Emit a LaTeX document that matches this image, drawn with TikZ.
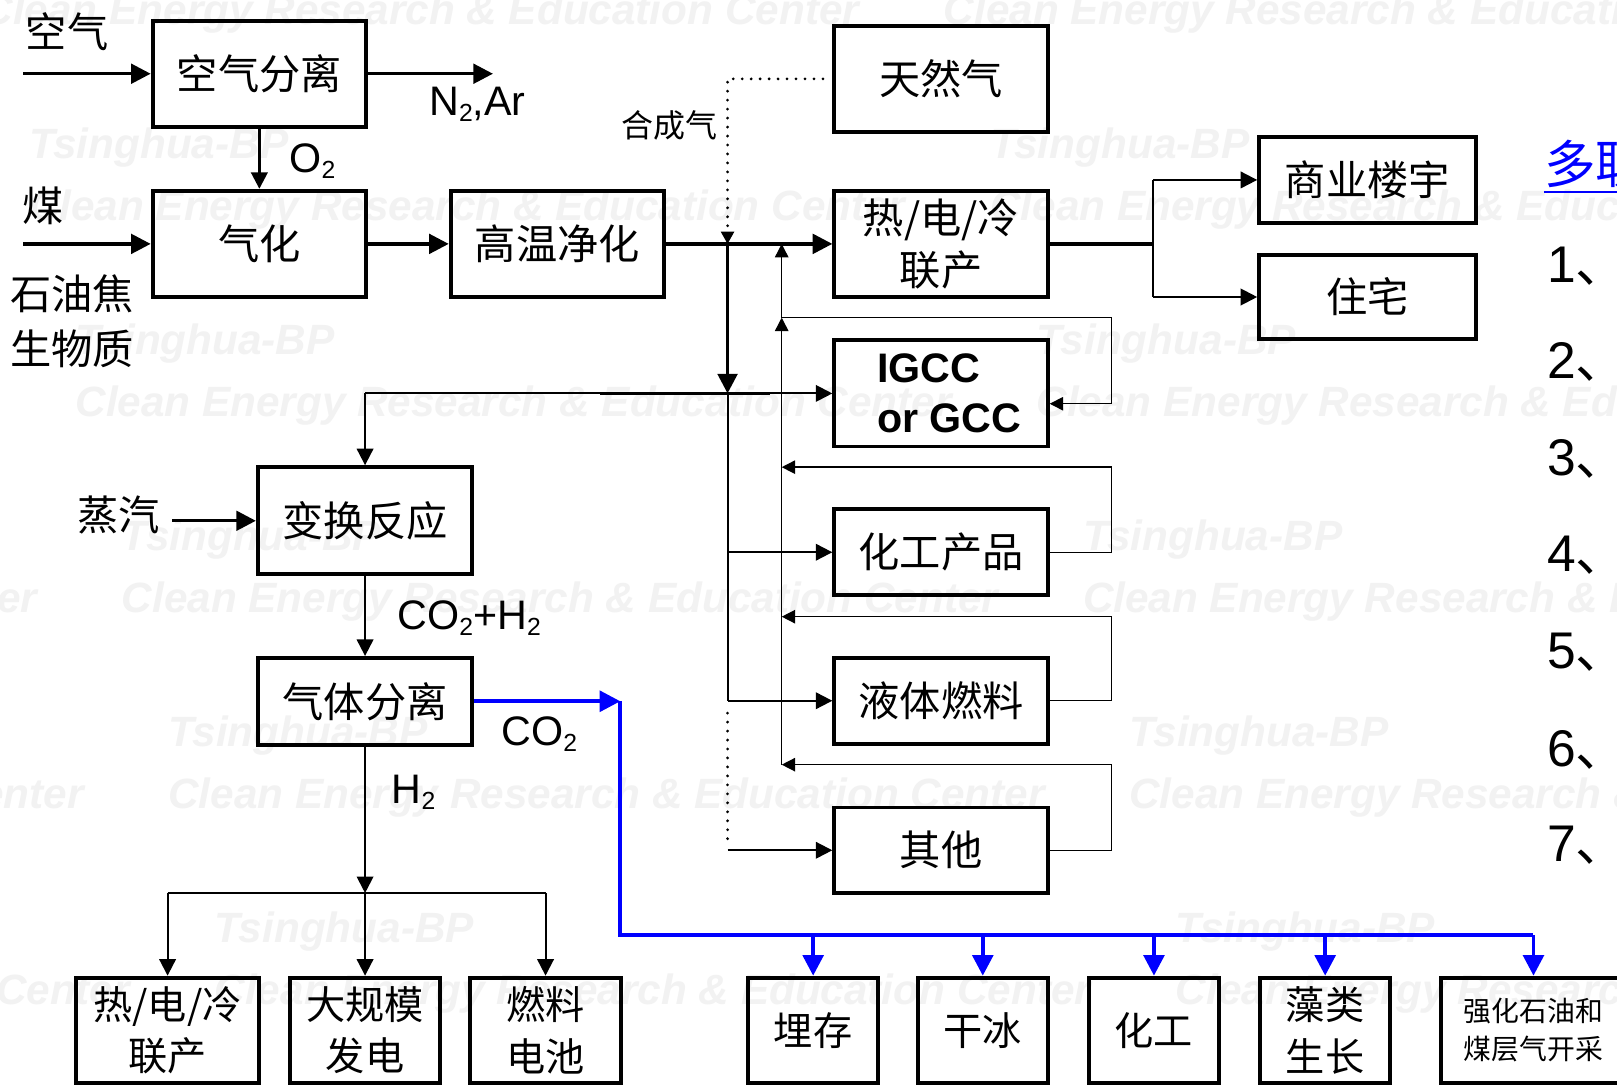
\documentclass[tikz,border=0pt]{standalone}
\usepackage{fontspec}
\setmainfont{Liberation Sans}
\newfontfamily\cjk{Noto Sans CJK SC}
\usetikzlibrary{arrows.meta}
\newcommand\subscr[1]{\raisebox{-6pt}{\fontsize{24}{24}\selectfont #1}}
\tikzset{
  boxA/.style={draw, line width=3.8pt, inner sep=0pt, align=center, font=\cjk\fontsize{40}{51}\selectfont},
  boxB/.style={draw, line width=3.8pt, inner sep=0pt, align=center, minimum height=102, font=\cjk\fontsize{38}{50}\selectfont},
  lab/.style={inner sep=0pt, font=\cjk\fontsize{40}{50}\selectfont},
  latlab/.style={inner sep=0pt, font=\fontsize{40}{48}\selectfont},
  lnThick/.style={line width=3.2pt},
  arThick/.style={line width=3.2pt, -{Triangle[length=19pt,width=19pt]}},
  arMed/.style={line width=2pt, -{Triangle[length=16pt,width=16pt]}},
  lnMed/.style={line width=2pt},
  arThin/.style={line width=1.4pt, -{Triangle[length=13pt,width=13pt]}},
  lnThin/.style={line width=1.4pt},
  arBlue/.style={draw=blue, line width=3.8pt, -{Triangle[length=20pt,width=20pt]}},
  lnBlue/.style={draw=blue, line width=3.8pt},
  dotln/.style={line width=3pt, line cap=round, dash pattern=on 0pt off 8.7pt},
  wm/.style={inner sep=0pt, anchor=west, text=black!5, font=\fontsize{41}{41}\selectfont\bfseries\itshape},
  numlab/.style={anchor=base west, inner sep=0pt, font=\fontsize{50}{50}\selectfont},
}
\begin{document}
\begin{tikzpicture}[x=1pt,y=-1pt]
\useasboundingbox (0,0) rectangle (1568,1052);
\clip (0,0) rectangle (1568,1052);
\fill[white] (0,0) rectangle (1568,1052);
% watermark
\foreach \i in {-1,...,4} {
  \foreach \j in {-1,0,1} {
    \pgfmathsetmacro\wx{28+45*\i+932*\j}
    \pgfmathsetmacro\wy{143+190*\i}
    \node[wm] (wmT\i\j) at (\wx,\wy) {Tsinghua-BP};
    \node[wm] (wmC\i\j) at (\wx,\wy+60) {Clean Energy Research \& Education Center};
  }
}
% boxes
\node[boxA, minimum width=207, minimum height=103] (asep) at (251.5,71.5) {空气分离};
\node[boxA, minimum width=207, minimum height=103] (gasif) at (251.5,236.5) {气化};
\node[boxA, minimum width=207, minimum height=103] (clean) at (540.5,236.5) {高温净化};
\node[boxA, minimum width=207, minimum height=103] (ng) at (912.5,76.5) {天然气};
\node[boxA, minimum width=207, minimum height=103] (chp) at (912.5,236.5) {热/电/冷\\联产};
\node[boxA, minimum width=207, minimum height=103, align=left, font=\fontsize{40}{48}\selectfont\bfseries] (igcc) at (912.5,381.5) {\hspace*{16pt}IGCC\\\hspace*{16pt}or GCC};
\node[boxA, minimum width=207, minimum height=83] (chem) at (912.5,535.5) {化工产品};
\node[boxA, minimum width=207, minimum height=83] (liq) at (912.5,679.5) {液体燃料};
\node[boxA, minimum width=207, minimum height=83] (other) at (912.5,824.5) {其他};
\node[boxA, minimum width=210, minimum height=83] (comm) at (1326,174.5) {商业楼宇};
\node[boxA, minimum width=210, minimum height=82] (home) at (1326,288) {住宅};
\node[boxA, minimum width=208, minimum height=104] (shift) at (354,505) {变换反应};
\node[boxA, minimum width=208, minimum height=84] (gsep) at (354,680) {气体分离};
% bottom boxes
\node[boxB, minimum width=177] (bchp) at (162.5,999) {热/电/冷\\联产};
\node[boxB, minimum width=146] (bpow) at (354,999) {大规模\\发电};
\node[boxB, minimum width=146] (bfc) at (529,999) {燃料\\电池};
\node[boxB, minimum width=126] (store) at (788.5,999) {埋存};
\node[boxB, minimum width=126] (ice) at (953,999) {干冰};
\node[boxB, minimum width=126] (chemb) at (1119,999) {化工};
\node[boxB, minimum width=126] (algae) at (1285,999) {藻类\\生长};
\node[boxB, minimum width=179, font=\cjk\fontsize{27}{37}\selectfont] (eor) at (1487,999) {强化石油和\\煤层气开采};
% labels
\node[lab] (lair) at (65,31) {空气};
\node[lab] (lcoal) at (41.5,200) {煤};
\node[lab] (lcoke) at (70,285) {石油焦};
\node[lab] (lbio) at (70,338) {生物质};
\node[lab] (lsteam) at (115,499) {蒸汽};
\node[lab, font=\cjk\fontsize{31}{31}\selectfont] (lsyn) at (649,122) {合成气};
\node[latlab] (ln2) at (463,101) {N\subscr{2},Ar};
\node[latlab] (lo2) at (303,156) {O\subscr{2}};
\node[latlab] (lco2h2) at (455,599) {CO\subscr{2}+H\subscr{2}};
\node[latlab] (lco2) at (523,712) {CO\subscr{2}};
\node[latlab] (lh2) at (401,768) {H\subscr{2}};
% right column
\node[anchor=base west, inner sep=0pt, text=blue, font=\cjk\fontsize{50}{50}\selectfont] (title) at (1497,178) {多联产};
\draw[blue, line width=2pt] ([yshift=-8pt]title.base west) -- ([yshift=-8pt]title.base east);
\node[numlab] (n1) at (1500,274) {1{\cjk 、}};
\node[numlab] (n2) at (1500,367.5) {2{\cjk 、}};
\node[numlab] (n3) at (1500,461.5) {3{\cjk 、}};
\node[numlab] (n4) at (1500,554) {4{\cjk 、}};
\node[numlab] (n5) at (1500,648) {5{\cjk 、}};
\node[numlab] (n6) at (1500,743) {6{\cjk 、}};
\node[numlab] (n7) at (1500,835) {7{\cjk 、}};
% coordinates
\coordinate (airin) at (22.5,71.5);
\coordinate (n2end) at (478,71.5);
\coordinate (coalin) at (22.5,236.5);
\coordinate (steamin) at (167,505);
\coordinate (ngd) at (798,76.5);
\coordinate (ngc) at (705.5,76.5);
\coordinate (j1) at (705.5,236.5);
\coordinate (j2) at (705.5,381.5);
\coordinate (j3) at (705.5,679.5);
\coordinate (j4) at (705.5,824.5);
\coordinate (ig0) at (354,381.5);
\coordinate (igA) at (582,381.5);
\coordinate (igB) at (747,381.5);
\coordinate (r0) at (758,236.5);
\coordinate (r1) at (758,308);
\coordinate (r2) at (758,453);
\coordinate (r3) at (758,598);
\coordinate (r4) at (758,741.5);
\coordinate (f0) at (1078,308);
\coordinate (f1) at (1078,391.5);
\coordinate (br0) at (1118,236.5);
\coordinate (br1) at (1118,174.5);
\coordinate (br2) at (1118,288);
\coordinate (h0) at (354,866);
\coordinate (hL) at (162.5,866);
\coordinate (hR) at (529,866);
\coordinate (c0) at (601.5,680);
\coordinate (c1) at (601.5,907);
\coordinate (c2) at (1487,907);
% top connectors
\draw[arThick] (airin) -- (asep.west);
\draw[arThick] (asep.east) -- (n2end);
\draw[arMed, line width=2.6pt] (asep.south) -- (gasif.north);
\draw[arThick] (coalin) -- (gasif.west);
\draw[arThick] (gasif.east) -- (clean.west);
\draw[arThick] (clean.east) -- (chp.west);
\draw[dotln] (ngd) -- (ngc) -- ([yshift=8pt]j1);
\draw[line width=1.4pt, -{Triangle[length=12pt,width=13pt]}] ([yshift=10pt]j1) -- (j1);
\draw[arThick, line width=3.4pt] (j1) -- (j2);
\draw[arMed] (ig0) -- (igcc.west);
\draw[lnThick] (igA) -- (igB);
\draw[arMed] (ig0) -- (shift.north);
\draw[lnMed] (j2) -- (j3);
\draw[arMed] (j2 |- chem.west) -- (chem.west);
\draw[arMed] (j3) -- (liq.west);
\draw[dotln] ([yshift=-12pt]j3) -- ([yshift=8pt]j4);
\draw[arMed] (j4) -- (other.west);
% feedback
\draw[arThin] (r4) -- (r1);
\draw[arThin] (r1) -- (r0);
\draw[arThin] (r1) -- (f0) -- (f1) -- (igcc.east |- f1);
\draw[arThin] (chem.east) -- (chem.east -| f0) -- (f0 |- r2) -- (r2);
\draw[arThin] (liq.east) -- (liq.east -| f0) -- (f0 |- r3) -- (r3);
\draw[arThin] (other.east) -- (other.east -| f0) -- (f0 |- r4) -- (r4);
% outputs of chp
\draw[lnThick] (chp.east) -- (br0);
\draw[lnMed] (br1) -- (br2);
\draw[arMed] (br1) -- (comm.west);
\draw[arMed] (br2) -- (home.west);
% shift and separation
\draw[arThick] (steamin) -- (shift.west);
\draw[arMed] (shift.south) -- (gsep.north);
\draw[arMed] (gsep.south) -- (h0);
\draw[lnMed] (hL) -- (hR);
\draw[arMed] (hL) -- (bchp.north);
\draw[arMed] (h0) -- (bpow.north);
\draw[arMed] (hR) -- (bfc.north);
% CO2
\draw[arBlue] (gsep.east) -- (c0);
\draw[lnBlue] (c0) -- (c1) -- (c2);
\draw[arBlue] (c1 -| store.north) -- (store.north);
\draw[arBlue] (c1 -| ice.north) -- (ice.north);
\draw[arBlue] (c1 -| chemb.north) -- (chemb.north);
\draw[arBlue] (c1 -| algae.north) -- (algae.north);
\draw[arBlue] (c2) -- (eor.north);
\end{tikzpicture}
\end{document}
